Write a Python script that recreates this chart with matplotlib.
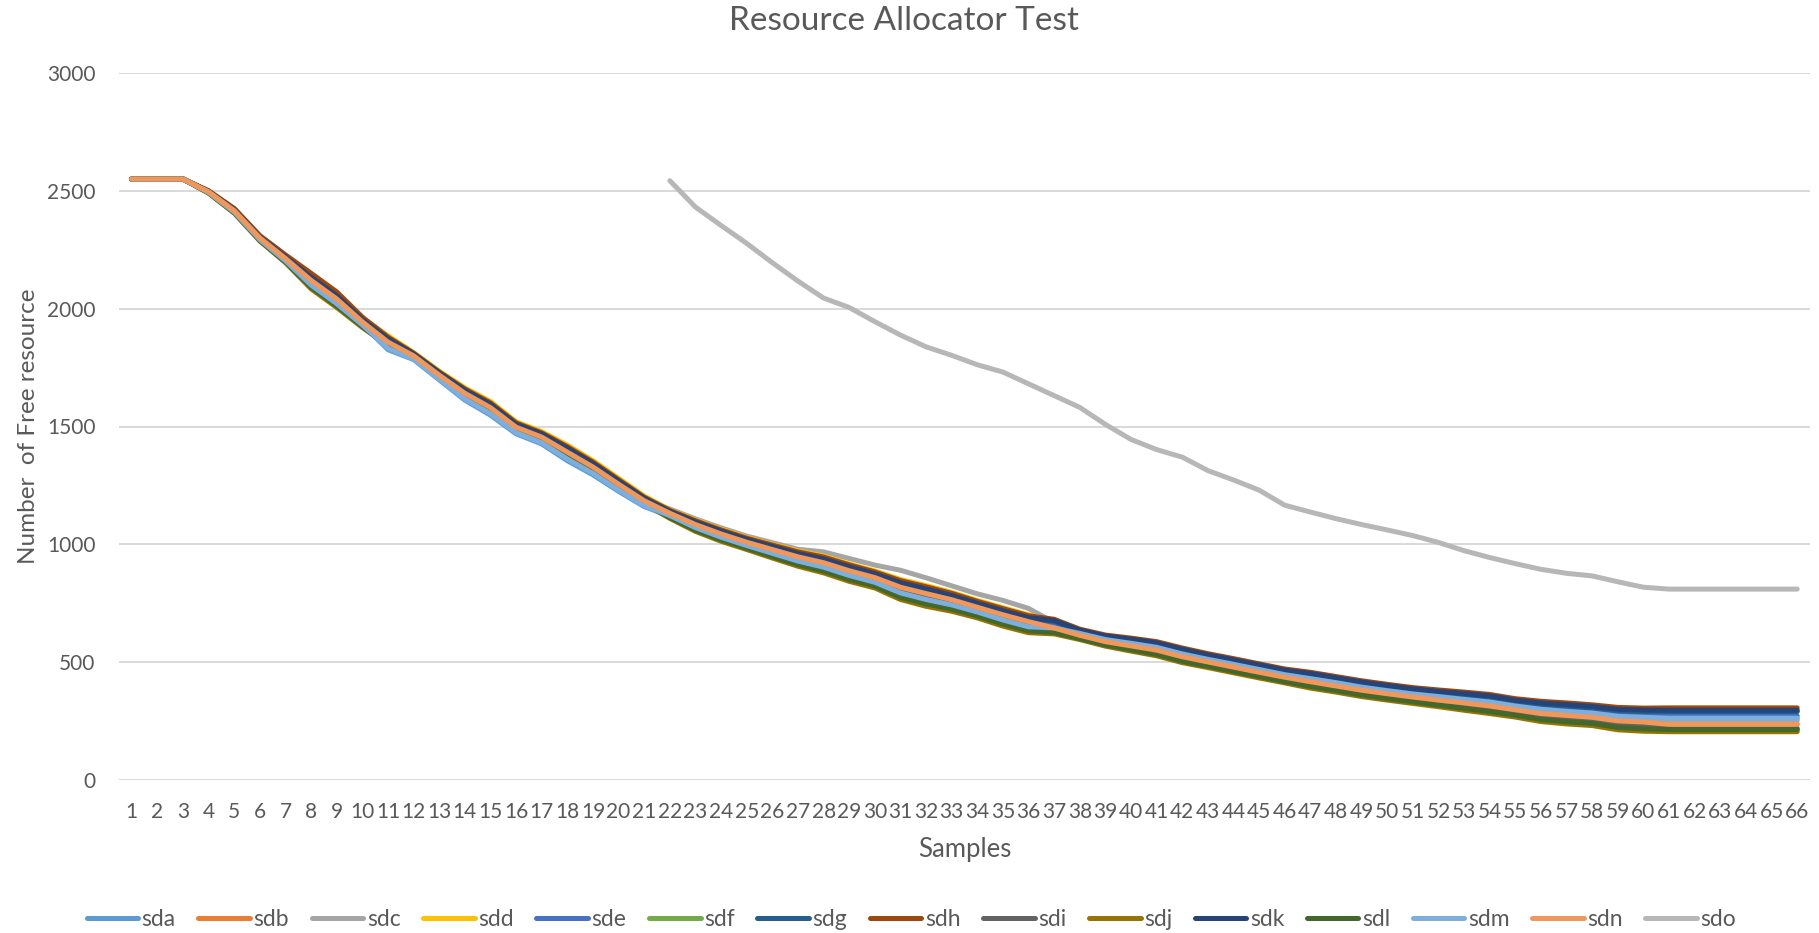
import matplotlib
matplotlib.use("Agg")
import matplotlib.pyplot as plt
from matplotlib import font_manager

# ---- data -------------------------------------------------------------
samples = list(range(1, 67))

sda = [2550, 2550, 2550,
       2493, 2411, 2294, 2205, 2104, 2025, 1933,
       1826, 1784, 1698, 1612, 1548, 1469, 1426, 1355, 1295, 1225, 1160,
       1120, 1068, 1027, 992, 958, 925, 899, 864, 835, 790, 762, 738, 708, 675, 646,
       638, 620, 594, 577, 560, 532, 509, 488, 466, 444, 427, 409, 391, 376, 362, 350,
       338, 327, 310, 295, 287, 279, 265, 261,
       260, 260, 260, 260, 260, 260]
sdb = [2550, 2550, 2550,
       2495, 2415, 2298, 2211, 2117, 2038, 1942,
       1856, 1799, 1717, 1638, 1577, 1495, 1452, 1388, 1325, 1252, 1182,
       1130, 1082, 1042, 1007, 975, 943, 918, 884, 855, 813, 786, 760, 729, 696, 667,
       644, 613, 586, 568, 550, 522, 499, 478, 456, 434, 415, 398, 379, 364, 350, 338,
       325, 313, 297, 281, 272, 264, 249, 244,
       236, 236, 236, 236, 236, 236]
sdc = [2550, 2550, 2550,
       2497, 2418, 2302, 2216, 2127, 2048, 1949,
       1864, 1804, 1722, 1646, 1586, 1502, 1460, 1398, 1334, 1261, 1189,
       1150, 1108, 1070, 1035, 1007, 979, 968, 940, 912, 890, 858, 824, 790, 762, 728,
       668, 618, 592, 575, 557, 529, 507, 485, 463, 442, 424, 406, 388, 373, 359, 347,
       335, 323, 306, 291, 283, 275, 261, 256,
       250, 250, 250, 250, 250, 250]
sdd = [2550, 2550, 2550,
       2499, 2423, 2308, 2225, 2143, 2064, 1960,
       1885, 1814, 1735, 1664, 1606, 1520, 1478, 1421, 1355, 1280, 1205,
       1146, 1103, 1064, 1029, 1000, 972, 950, 917, 887, 851, 825, 796, 762, 731, 701,
       675, 635, 609, 595, 580, 553, 529, 508, 486, 464, 449, 431, 413, 398, 384, 373,
       364, 353, 336, 324, 316, 308, 297, 293,
       293, 293, 293, 293, 293, 293]
sde = [2550, 2550, 2550,
       2495, 2414, 2297, 2210, 2114, 2035, 1940,
       1853, 1798, 1715, 1635, 1574, 1492, 1449, 1385, 1322, 1250, 1180,
       1134, 1087, 1047, 1012, 981, 950, 926, 892, 863, 822, 796, 769, 737, 705, 676,
       663, 627, 601, 586, 569, 541, 518, 497, 475, 453, 437, 419, 401, 386, 372, 361,
       350, 339, 322, 308, 300, 293, 280, 276,
       272, 272, 272, 272, 272, 272]
sdf = [2550, 2550, 2550,
       2492, 2409, 2292, 2202, 2097, 2018, 1929,
       1838, 1790, 1705, 1622, 1560, 1479, 1436, 1368, 1307, 1236, 1169,
       1116, 1063, 1022, 987, 952, 918, 891, 855, 827, 780, 752, 729, 700, 666, 638,
       629, 603, 575, 555, 536, 507, 486, 464, 442, 421, 400, 383, 364, 349, 335, 322,
       308, 294, 279, 261, 251, 244, 227, 222,
       214, 214, 214, 214, 214, 214]
sdg = [2550, 2550, 2550,
       2498, 2421, 2305, 2221, 2137, 2058, 1955,
       1867, 1805, 1724, 1648, 1589, 1505, 1462, 1401, 1337, 1263, 1191,
       1138, 1092, 1053, 1018, 988, 957, 934, 900, 871, 832, 806, 778, 745, 714, 684,
       673, 633, 608, 594, 578, 551, 527, 506, 484, 462, 447, 429, 411, 396, 382, 371,
       361, 351, 333, 321, 314, 306, 294, 290,
       290, 290, 290, 290, 290, 290]
sdh = [2550, 2550, 2550,
       2500, 2425, 2310, 2228, 2150, 2071, 1964,
       1879, 1811, 1731, 1659, 1600, 1515, 1473, 1414, 1349, 1274, 1200,
       1144, 1100, 1061, 1026, 997, 968, 946, 913, 883, 846, 820, 792, 758, 727, 697,
       682, 640, 615, 602, 587, 560, 536, 515, 493, 471, 457, 439, 421, 406, 392, 382,
       373, 363, 345, 334, 327, 319, 308, 305,
       306, 306, 306, 306, 306, 306]
sdi = [2550, 2550, 2550,
       2494, 2413, 2296, 2208, 2110, 2031, 1938,
       1850, 1796, 1713, 1633, 1571, 1489, 1447, 1381, 1319, 1247, 1178,
       1126, 1076, 1036, 1001, 968, 936, 911, 876, 847, 804, 776, 752, 721, 688, 659,
       632, 605, 577, 558, 539, 510, 489, 467, 445, 424, 403, 386, 367, 352, 338, 325,
       311, 298, 283, 265, 256, 249, 232, 227,
       220, 220, 220, 220, 220, 220]
sdj = [2550, 2550, 2550,
       2490, 2405, 2287, 2195, 2084, 2005, 1920,
       1844, 1793, 1709, 1628, 1565, 1484, 1442, 1375, 1313, 1241, 1173,
       1110, 1055, 1013, 978, 942, 907, 879, 843, 815, 766, 737, 716, 688, 653, 625,
       620, 596, 568, 547, 527, 498, 477, 455, 433, 412, 390, 373, 354, 339, 325, 311,
       296, 282, 267, 248, 238, 231, 213, 207,
       205, 205, 205, 205, 205, 205]
sdk = [2550, 2550, 2550,
       2498, 2420, 2304, 2220, 2133, 2055, 1953,
       1873, 1808, 1728, 1654, 1594, 1510, 1468, 1408, 1343, 1269, 1196,
       1140, 1095, 1056, 1021, 991, 961, 938, 905, 875, 837, 811, 783, 750, 718, 689,
       677, 636, 611, 598, 582, 555, 531, 510, 488, 466, 452, 434, 416, 401, 387, 376,
       367, 357, 339, 327, 320, 312, 300, 297,
       296, 296, 296, 296, 296, 296]
sdl = [2550, 2550, 2550,
       2491, 2407, 2289, 2198, 2091, 2012, 1924,
       1841, 1792, 1707, 1625, 1563, 1482, 1439, 1372, 1310, 1239, 1171,
       1114, 1060, 1019, 984, 948, 914, 887, 851, 823, 775, 747, 725, 696, 662, 633,
       626, 600, 573, 553, 533, 504, 483, 461, 439, 418, 397, 380, 361, 346, 332, 318,
       304, 290, 275, 257, 247, 240, 223, 217,
       214, 214, 214, 214, 214, 214]
sdm = [2550, 2550, 2550,
       2493, 2410, 2293, 2203, 2100, 2021, 1931,
       1832, 1787, 1702, 1617, 1554, 1474, 1431, 1362, 1301, 1230, 1164,
       1122, 1071, 1030, 995, 962, 929, 903, 868, 839, 794, 766, 743, 713, 679, 650,
       645, 622, 596, 580, 563, 535, 512, 491, 469, 447, 430, 413, 394, 379, 365, 354,
       342, 331, 314, 300, 291, 284, 270, 266,
       262, 262, 262, 262, 262, 262]
sdn = [2550, 2550, 2550,
       2496, 2416, 2300, 2213, 2120, 2041, 1944,
       1858, 1800, 1718, 1641, 1580, 1497, 1455, 1391, 1328, 1255, 1185,
       1132, 1084, 1044, 1009, 978, 947, 922, 888, 859, 818, 791, 765, 733, 701, 672,
       645, 614, 587, 569, 551, 523, 501, 479, 457, 436, 417, 399, 381, 366, 352, 339,
       327, 314, 298, 282, 274, 266, 251, 246,
       236, 236, 236, 236, 236, 236]
# sdo only reports from sample 22 onwards
sdo = [None] * 21 + [
       2543, 2431, 2353, 2277, 2195, 2117, 2045, 2005, 1945, 1888, 1838, 1802, 1762,
       1731, 1681, 1631, 1581, 1509, 1445, 1402, 1370, 1313, 1273, 1230, 1166, 1137,
       1109, 1084, 1061, 1037, 1008, 973, 944, 918, 894, 877, 866, 841, 818,
       810, 810, 810, 810, 810, 810]

series_names = ["sda", "sdb", "sdc", "sdd", "sde", "sdf", "sdg", "sdh",
                "sdi", "sdj", "sdk", "sdl", "sdm", "sdn", "sdo"]
series_values = [sda, sdb, sdc, sdd, sde, sdf, sdg, sdh,
                 sdi, sdj, sdk, sdl, sdm, sdn, sdo]
series_colors = ["#5B9BD5", "#ED7D31", "#A5A5A5", "#FFC000", "#4472C4",
                 "#70AD47", "#255E91", "#9E480E", "#636363", "#997300",
                 "#264478", "#43682B", "#7CAFDD", "#F1975A", "#B7B7B7"]

y_ticks = [0, 500, 1000, 1500, 2000, 2500, 3000]

# ---- style ------------------------------------------------------------
installed = {f.name for f in font_manager.fontManager.ttflist}
family = "Lato" if "Lato" in installed else "DejaVu Sans"
plt.rcParams["font.family"] = [family, "DejaVu Sans"]
text_color = "#595959"
grid_color = "#D9D9D9"

W, H = 1819, 933
fig = plt.figure(figsize=(W / 100, H / 100), dpi=100)
left, right, top, bottom = 119, 1810, 73, 780
ax = fig.add_axes([left / W, 1 - bottom / H, (right - left) / W, (bottom - top) / H])

lines = []
for name, vals, col in zip(series_names, series_values, series_colors):
    xs = [s for s, v in zip(samples, vals) if v is not None]
    ys = [v for v in vals if v is not None]
    ln, = ax.plot(xs, ys, color=col, lw=3.6, solid_capstyle="round",
                  solid_joinstyle="round", label=name)
    lines.append(ln)

ax.set_xlim(0.5, len(samples) + 0.5)
ax.set_ylim(0, 3000)
ax.set_yticks(y_ticks)
ax.set_xticks(samples)
ax.set_xticklabels([str(s) for s in samples])
ax.yaxis.grid(True, color=grid_color, lw=1.4)
ax.set_axisbelow(True)
for side in ("top", "right", "left", "bottom"):
    ax.spines[side].set_visible(False)
ax.tick_params(axis="both", length=0, colors=text_color, labelsize=15)
ax.tick_params(axis="y", pad=17)
ax.tick_params(axis="x", pad=16)

ax.set_xlabel("Samples", color=text_color, fontsize=18.5, labelpad=11)
ax.set_ylabel("Number  of Free resource", color=text_color, fontsize=17.5, labelpad=6)

fig.text(0.497, 1 - 21 / H, "Resource Allocator Test", ha="center", va="center",
         color=text_color, fontsize=24)

fig.legend(handles=lines, labels=series_names, loc="center",
           bbox_to_anchor=(0.501, 1 - 920 / H), ncol=15, frameon=False,
           handlelength=2.25, handletextpad=0.15, columnspacing=0.99,
           fontsize=16.5, labelcolor=text_color)

fig.savefig("out.png", dpi=100, facecolor="white")
